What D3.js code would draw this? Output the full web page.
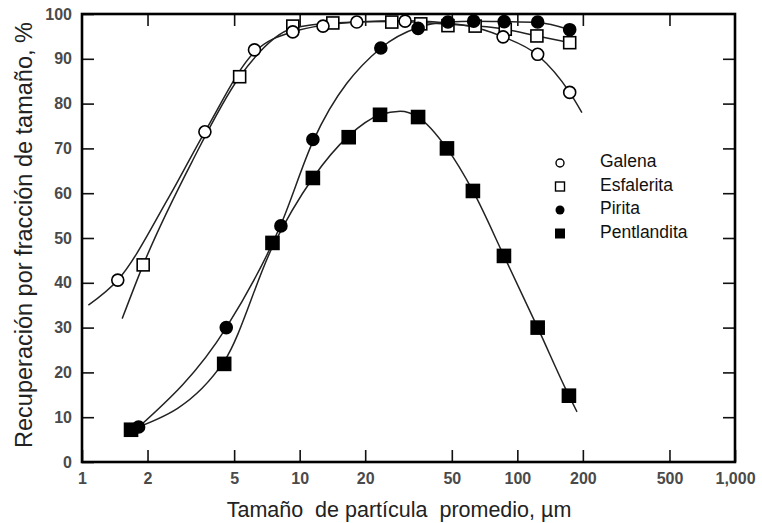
<!DOCTYPE html>
<meta charset="utf-8">
<style>
body { margin: 0; background: #fff; }
text { font-family: "Liberation Sans", Arial, sans-serif; }
.tick text { font-size: 16px; font-weight: bold; fill: #4a4a4a; }
.tick line { stroke: #111; stroke-width: 1.6; }
.domain { display: none; }
</style>
<body>
<script src="https://cdn.jsdelivr.net/npm/d3@7"></script>
<script>
// tick values
var xTicks = [1, 2, 5, 10, 20, 50, 100, 200, 500, 1000];
var yTicks = [0, 10, 20, 30, 40, 50, 60, 70, 80, 90, 100];

// measured points [size um, recovery %]
var galena = [[1.46, 40.6], [3.67, 73.7], [6.2, 92], [9.3, 96], [12.8, 97.3], [18.3, 98.2], [30.5, 98.4], [86, 94.9], [124, 91], [174, 82.5]];
var esfalerita = [[1.91, 44], [5.3, 86], [9.3, 97.3], [14.2, 98], [26.5, 98.2], [36, 97.8], [48, 97.4], [64, 97.3], [88, 96.6], [123, 95.1], [174, 93.6]];
var pirita = [[1.82, 7.8], [4.6, 30], [8.2, 52.7], [11.5, 72], [23.6, 92.4], [35, 96.8], [48, 98.2], [63, 98.4], [87, 98.3], [124, 98.2], [174, 96.5]];
var pentlandita = [[1.68, 7.2], [4.5, 21.9], [7.5, 48.9], [11.5, 63.4], [16.8, 72.5], [23.4, 77.5], [35, 77], [47.5, 70], [62.5, 60.5], [86.8, 46], [124, 30], [172.6, 14.8]];

// fitted curves as drawn (they run past the end points)
var galenaCurve = [[1.07, 35], [1.46, 40.6], [2.5, 59], [3.67, 73.7], [6.2, 91.5], [9.3, 96], [18.3, 98.2], [30.5, 98.5], [55, 97.6], [86, 94.9], [124, 90.8], [174, 82.5], [198, 78]];
var esfaleritaCurve = [[1.53, 32], [1.91, 44], [3.2, 67], [5.3, 86], [9.3, 96.8], [14.2, 98], [26.5, 98.3], [48, 97.7], [88, 96.6], [123, 95.1], [174, 93.6]];
var piritaCurve = [[1.82, 7.8], [4.6, 30], [8.2, 53], [11.5, 71.5], [23.6, 92.4], [35, 97], [48, 98.2], [63, 98.4], [87, 98.3], [124, 98.1], [174, 96.5]];
var pentlanditaCurve = [[1.68, 7.2], [4.5, 22.5], [7.5, 48], [11.5, 63.4], [16.8, 72.8], [23.4, 77.5], [29, 78.3], [35, 77], [47.5, 70], [62.5, 60.5], [86.8, 46], [124, 30], [172.6, 14.8], [188, 11.2]];

var legendNames = ["Galena", "Esfalerita", "Pirita", "Pentlandita"];

var margin = {top: 14, right: 27, bottom: 61, left: 82},
    width = 762 - margin.left - margin.right,
    height = 523 - margin.top - margin.bottom;

var x = d3.scaleLog().domain([1, 1000]).range([0, width]);
var y = d3.scaleLinear().domain([0, 100]).range([height, 0]);

var svg = d3.select("body").append("svg")
    .attr("width", 762)
    .attr("height", 523)
  .append("g")
    .attr("transform", "translate(" + margin.left + "," + margin.top + ")");

var fmt = function(d) { return d == 1000 ? "1,000" : d; };

// axes, ticks pointing inward
svg.append("g")
    .attr("transform", "translate(0," + height + ")")
    .call(d3.axisBottom(x).tickValues(xTicks).tickFormat(fmt).tickSize(-12).tickPadding(11));
svg.append("g")
    .call(d3.axisTop(x).tickValues(xTicks.slice(1, -1)).tickFormat("").tickSize(-12));
svg.append("g")
    .call(d3.axisLeft(y).tickValues(yTicks).tickSize(-12).tickPadding(10));
svg.append("g")
    .attr("transform", "translate(" + width + ",0)")
    .call(d3.axisRight(y).tickValues(yTicks.slice(1, -1)).tickFormat("").tickSize(-12));

// frame
svg.append("rect")
    .attr("width", width)
    .attr("height", height)
    .attr("fill", "none")
    .attr("stroke", "#000")
    .attr("stroke-width", 2.6);

var line = d3.line()
    .x(function(d) { return x(d[0]); })
    .y(function(d) { return y(d[1]); })
    .curve(d3.curveMonotoneX);

[galenaCurve, esfaleritaCurve, piritaCurve, pentlanditaCurve].forEach(function(c) {
  svg.append("path")
      .datum(c)
      .attr("d", line)
      .attr("fill", "none")
      .attr("stroke", "#222")
      .attr("stroke-width", 1.5);
});

function circles(data, filled, r) {
  svg.selectAll(null)
      .data(data)
    .enter().append("circle")
      .attr("cx", function(d) { return x(d[0]); })
      .attr("cy", function(d) { return y(d[1]); })
      .attr("r", r)
      .attr("fill", filled ? "#000" : "#fff")
      .attr("stroke", "#000")
      .attr("stroke-width", 1.6);
}
function squares(data, filled, s) {
  svg.selectAll(null)
      .data(data)
    .enter().append("rect")
      .attr("x", function(d) { return x(d[0]) - s / 2; })
      .attr("y", function(d) { return y(d[1]) - s / 2; })
      .attr("width", s)
      .attr("height", s)
      .attr("fill", filled ? "#000" : "#fff")
      .attr("stroke", "#000")
      .attr("stroke-width", 1.6);
}

squares(esfalerita, false, 12);
circles(galena, false, 6);
squares(pentlandita, true, 13);
circles(pirita, true, 6);

// legend
var lg = svg.append("g").attr("transform", "translate(478,149)");
legendNames.forEach(function(n, i) {
  var gy = i * 23.5;
  if (i == 0) lg.append("circle").attr("cx", 0).attr("cy", gy).attr("r", 4).attr("fill", "#fff").attr("stroke", "#000").attr("stroke-width", 1.4);
  if (i == 1) lg.append("rect").attr("x", -4.5).attr("y", gy - 4.5).attr("width", 9).attr("height", 9).attr("fill", "#fff").attr("stroke", "#000").attr("stroke-width", 1.4);
  if (i == 2) lg.append("circle").attr("cx", 0).attr("cy", gy).attr("r", 4.5).attr("fill", "#000");
  if (i == 3) lg.append("rect").attr("x", -5).attr("y", gy - 5).attr("width", 10).attr("height", 10).attr("fill", "#000");
  lg.append("text")
      .attr("x", 40)
      .attr("y", gy - 2)
      .attr("dy", "0.35em")
      .style("font-size", "17.5px")
      .style("fill", "#111")
      .text(n);
});

// axis titles
svg.append("text")
    .attr("x", 317)
    .attr("y", 503)
    .attr("text-anchor", "middle")
    .style("font-size", "21.5px")
    .style("fill", "#222")
    .style("white-space", "pre")
    .text("Tamaño  de partícula  promedio, µm");

svg.append("text")
    .attr("transform", "translate(-50,221) rotate(-90)")
    .attr("text-anchor", "middle")
    .style("font-size", "23.5px")
    .style("fill", "#222")
    .text("Recuperación por fracción de tamaño, %");
</script>
</body>
